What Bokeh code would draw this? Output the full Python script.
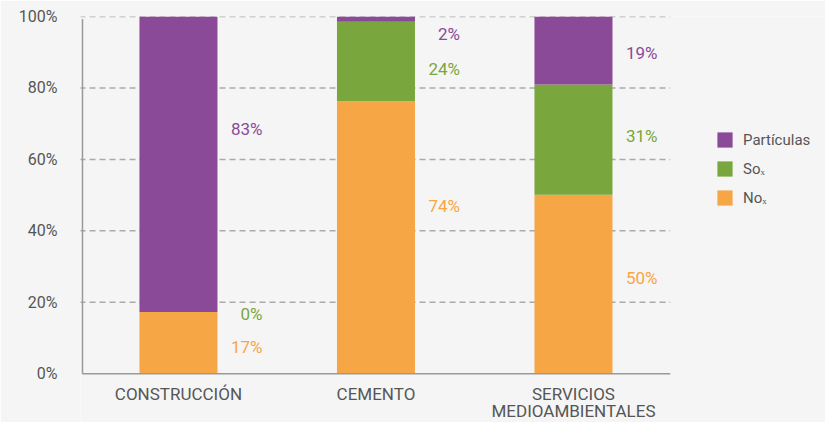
from bokeh.plotting import figure
from bokeh.models import ColumnDataSource, Legend, LegendItem, FixedTicker, Range1d
from bokeh.core.properties import value
from bokeh.embed import file_html
from bokeh.resources import INLINE

categories = ["CONSTRUCCIÓN", "CEMENTO", "SERVICIOS\nMEDIOAMBIENTALES"]
nox = [17.3, 76.3, 50.1]
sox = [0.0, 22.2, 30.9]
particulas = [82.7, 1.5, 19.0]
nox_labels = ["17%", "74%", "50%"]
sox_labels = ["0%", "24%", "31%"]
part_labels = ["83%", "2%", "19%"]
y_ticks = [0, 20, 40, 60, 80, 100]
# label anchor heights (data units)
nox_label_y = [7.6, 47.0, 26.7]
sox_label_y = [16.6, 85.4, 66.6]
part_label_y = [68.6, 95.2, 89.7]

C_PART = "#8A4A98"
C_SOX = "#7AA63E"
C_NOX = "#F7A646"
BG = "#F5F5F5"
FONT = "Roboto"
TXT = "#555555"

xs = list(range(len(categories)))
X0, X1 = -0.496, 3.276      # view range (frame spans the full width)
AX0, AX1 = -0.486, 2.49     # extent of axis lines / gridlines
Y0 = -13.65

src = ColumnDataSource(dict(x=xs, nox=nox, sox=sox, part=particulas))

p = figure(x_range=Range1d(X0, X1), y_range=Range1d(Y0, 100), width=825, height=422,
           output_backend="svg", toolbar_location=None,
           min_border_left=80, min_border_right=0, min_border_top=16, min_border_bottom=0)
p.background_fill_color = BG
p.border_fill_color = BG
p.outline_line_color = None
p.xgrid.grid_line_color = None
p.ygrid.grid_line_color = None
p.xaxis.visible = False

# dashed gridlines
grid_y = [t for t in y_ticks if t > 0]
p.segment(x0=[AX0 - 0.015] * len(grid_y), x1=[AX1] * len(grid_y), y0=grid_y, y1=grid_y,
          line_color="#AAAAAA", line_width=1.5, line_dash="6 4")

rs = p.vbar_stack(["nox", "sox", "part"], x="x", width=0.395, source=src,
                  color=[C_NOX, C_SOX, C_PART], line_color=None)

# axis lines
p.segment(x0=[AX0, AX0], x1=[AX1, AX0], y0=[0, 0], y1=[0, 99.3],
          line_color="#999999", line_width=1.5)

for labels, ys, col in [(nox_labels, nox_label_y, C_NOX), (sox_labels, sox_label_y, C_SOX),
                        (part_labels, part_label_y, C_PART)]:
    s = ColumnDataSource(dict(x=xs, y=ys, t=labels))
    p.text(x="x", y="y", text="t", source=s, x_offset=84, text_align="right",
           text_baseline="middle", text_color=col, text_font_size="17px",
           text_font=value(FONT))

# category labels
cs = ColumnDataSource(dict(x=xs, y=[0] * len(xs), t=categories))
p.text(x="x", y="y", text="t", source=cs, y_offset=10, text_align="center",
       text_baseline="top", text_color=TXT, text_font_size="17px",
       text_font=value(FONT), text_line_height=0.88)

p.yaxis.ticker = FixedTicker(ticks=y_ticks)
p.yaxis.major_label_overrides = {v: f"{v}%" for v in y_ticks}
p.yaxis.axis_line_color = None
p.yaxis.major_tick_line_color = None
p.yaxis.minor_tick_line_color = None
p.yaxis.major_label_text_color = TXT
p.yaxis.major_label_text_font = FONT
p.yaxis.major_label_text_font_size = "16px"
p.yaxis.major_label_standoff = 17

legend = Legend(items=[LegendItem(label="Partículas", renderers=[rs[2]]),
                       LegendItem(label="Soₓ", renderers=[rs[1]]),
                       LegendItem(label="Noₓ", renderers=[rs[0]])],
                location=(635, 215))
legend.padding = 0
legend.margin = 0
legend.spacing = 10
legend.glyph_width = 19
legend.glyph_height = 19
legend.label_standoff = 9
legend.border_line_color = None
legend.background_fill_alpha = 0
legend.label_text_font = FONT
legend.label_text_font_size = "15px"
legend.label_text_color = TXT
p.add_layout(legend, "center")

html = file_html(p, INLINE)
open("out.html", "w").write(html)
